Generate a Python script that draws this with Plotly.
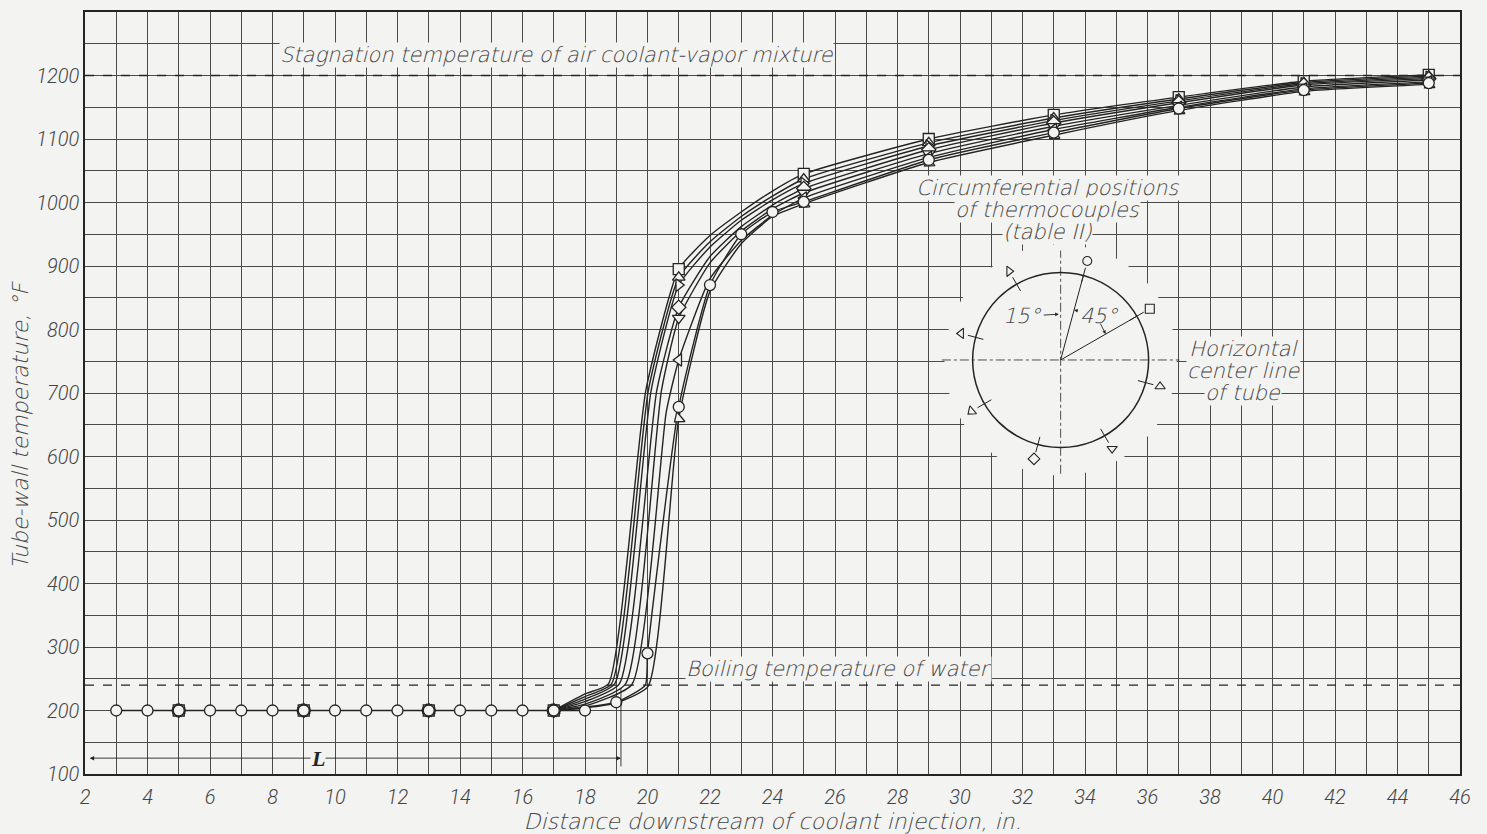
import math
import plotly.graph_objects as go

# ---------------- data ----------------
# upstream stations, the 15-deg (circle) thermocouple row
UP_X = [3, 4, 5, 6, 7, 8, 9, 10, 11, 12, 13, 14, 15, 16, 17, 18]
UP_Y = [200, 200, 200, 200, 200, 200, 200, 200, 200, 200, 200, 200, 200, 200, 200, 200]

# stations where all eight thermocouples sit on top of each other
ALL_X = [5, 9, 13, 17]
ALL_Y = [200, 200, 200, 200]

# downstream stations of the seven other thermocouples
DOWN_X = [21, 25, 29, 33, 37, 41, 45]
SQUARE_Y = [895, 1045, 1100, 1138, 1166, 1191, 1201]
TRI_UP_Y = [882, 1037, 1094, 1133, 1163, 1189, 1199]
TRI_RIGHT_Y = [870, 1030, 1089, 1129, 1160, 1187, 1197]
DIAMOND_Y = [835, 1022, 1083, 1125, 1157, 1185, 1195]
TRI_DOWN_Y = [818, 1015, 1077, 1120, 1153, 1182, 1193]
TRI_LEFT_Y = [752, 1007, 1071, 1115, 1150, 1179, 1190]
TRI_TILT_Y = [660, 998, 1063, 1106, 1145, 1175, 1186]

CIRCLE_X = [19, 20, 21, 22, 23, 24, 25, 29, 33, 37, 41, 45]
CIRCLE_Y = [213, 290, 678, 870, 950, 985, 1001, 1067, 1110, 1148, 1177, 1188]

# points read on the faired curves between the plotted stations
SQUARE_FX = [18, 18.75, 19.95, 22, 23, 24]
SQUARE_FY = [226, 242, 705, 948, 985, 1018]
TRI_UP_FX = [18, 18.85, 20.03, 22, 23, 24]
TRI_UP_FY = [222, 242, 705, 938, 978, 1010]
TRI_RIGHT_FX = [18, 18.95, 20.12, 22, 23, 24]
TRI_RIGHT_FY = [218, 242, 705, 930, 972, 1004]
DIAMOND_FX = [18, 19.1, 20.3, 22, 23, 24]
DIAMOND_FY = [214, 242, 705, 915, 962, 996]
TRI_DOWN_FX = [18, 19.3, 20.45, 22, 23, 24]
TRI_DOWN_FY = [210, 242, 705, 905, 955, 990]
TRI_LEFT_FX = [18, 19.5, 20.6, 22, 23, 24]
TRI_LEFT_FY = [207, 241, 670, 880, 940, 980]
TRI_TILT_FX = [18, 19, 20.02, 22, 23, 24]
TRI_TILT_FY = [204, 212, 238, 860, 935, 978]
CIRCLE_FX = [19.93]
CIRCLE_FY = [240]

# circumferential position of each thermocouple, degrees clockwise from top
ANGLE_SQUARE, ANGLE_TRI_UP, ANGLE_TRI_RIGHT, ANGLE_DIAMOND = 60, 105, 330, 195
ANGLE_TRI_DOWN, ANGLE_TRI_LEFT, ANGLE_CIRCLE, ANGLE_TRI_TILT = 150, 285, 15, 240

STAGNATION_T = 1200
BOILING_T = 240
L_END = 19.15

X_TICKS = list(range(2, 47, 2))
Y_TICKS = list(range(100, 1201, 100))

# ---------------- styling ----------------
BG = "#f3f3f1"
INK = "#242424"
GRID = "#4a4a4a"
TXT = "#454545"
FONT = "DejaVu Sans Light, DejaVu Sans"
TICKFONT = "Roboto"

W, H = 1487, 834
ML, MR, MT, MB = 85, 27, 10, 58
XR = [2, 46]
YR = [100, 1300]
SX = (W - ML - MR) / (XR[1] - XR[0])   # px per inch
SY = (H - MT - MB) / (YR[1] - YR[0])   # px per degree

series = [
    ("square", 0, DOWN_X, SQUARE_Y, SQUARE_FX, SQUARE_FY, ANGLE_SQUARE),
    ("triangle-up", 0, DOWN_X, TRI_UP_Y, TRI_UP_FX, TRI_UP_FY, ANGLE_TRI_UP),
    ("triangle-right", 0, DOWN_X, TRI_RIGHT_Y, TRI_RIGHT_FX, TRI_RIGHT_FY, ANGLE_TRI_RIGHT),
    ("diamond", 0, DOWN_X, DIAMOND_Y, DIAMOND_FX, DIAMOND_FY, ANGLE_DIAMOND),
    ("triangle-down", 0, DOWN_X, TRI_DOWN_Y, TRI_DOWN_FX, TRI_DOWN_FY, ANGLE_TRI_DOWN),
    ("triangle-left", 0, DOWN_X, TRI_LEFT_Y, TRI_LEFT_FX, TRI_LEFT_FY, ANGLE_TRI_LEFT),
    ("triangle-down", 50, DOWN_X, TRI_TILT_Y, TRI_TILT_FX, TRI_TILT_FY, ANGLE_TRI_TILT),
    ("circle", 0, CIRCLE_X, CIRCLE_Y, CIRCLE_FX, CIRCLE_FY, ANGLE_CIRCLE),
]

fig = go.Figure()

# faired curves
for sym, rot, mx, my, fx, fy, ang in series:
    pts = sorted(zip([17] + fx + mx, [200] + fy + my))
    fig.add_trace(go.Scatter(
        x=[p[0] for p in pts], y=[p[1] for p in pts], mode="lines",
        line=dict(color=INK, width=1.4, shape="spline", smoothing=0.5),
        hoverinfo="skip", showlegend=False))

# common upstream line
fig.add_trace(go.Scatter(x=UP_X, y=UP_Y, mode="lines",
                         line=dict(color=INK, width=1.4), showlegend=False))

# data points
mk = dict(size=11, color=BG, line=dict(color=INK, width=1.3))
for sym, rot, mx, my, fx, fy, ang in series:
    fig.add_trace(go.Scatter(
        x=ALL_X + mx, y=ALL_Y + my, mode="markers",
        marker=dict(symbol=sym, angle=rot, **mk), name=sym, showlegend=False))
fig.add_trace(go.Scatter(x=UP_X, y=UP_Y, mode="markers",
                         marker=dict(symbol="circle", **mk), showlegend=False))

# ---------------- tube cross-section sketch ----------------
CX, CY = 33.22, 752
R = 88  # px


def at(ang, r):
    a = math.radians(ang)
    return CX + r * math.sin(a) / SX, CY + r * math.cos(a) / SY


shapes = []
# blank paper round the sketch
shapes.append(dict(type="circle", xref="x", yref="y", layer="between",
                   x0=CX - 1.32 * R / SX, x1=CX + 1.32 * R / SX,
                   y0=CY - 1.32 * R / SY, y1=CY + 1.32 * R / SY,
                   fillcolor=BG, line=dict(width=0)))
shapes.append(dict(type="circle", xref="x", yref="y",
                   x0=CX - R / SX, x1=CX + R / SX, y0=CY - R / SY, y1=CY + R / SY,
                   line=dict(color=INK, width=1.5)))
# centre lines
shapes.append(dict(type="line", xref="x", yref="y",
                   x0=CX - 1.35 * R / SX, x1=CX + 1.35 * R / SX, y0=CY, y1=CY,
                   line=dict(color=INK, width=0.8, dash="dashdot")))
shapes.append(dict(type="line", xref="x", yref="y",
                   x0=CX, x1=CX, y0=CY - 1.3 * R / SY, y1=CY + 1.25 * R / SY,
                   line=dict(color=INK, width=0.8, dash="dashdot")))
# radii for the 15 and 45 degree dimensions
for ang in (ANGLE_CIRCLE, ANGLE_CIRCLE + 45):
    x1, y1 = at(ang, R)
    shapes.append(dict(type="line", xref="x", yref="y", x0=CX, y0=CY, x1=x1, y1=y1,
                       line=dict(color=INK, width=1)))
# ticks on the circle at each thermocouple
sk_x, sk_y, sk_sym, sk_rot = [], [], [], []
for sym, rot, mx, my, fx, fy, ang in series:
    xa, ya = at(ang, R - 8)
    xb, yb = at(ang, R + 8)
    shapes.append(dict(type="line", xref="x", yref="y", x0=xa, y0=ya, x1=xb, y1=yb,
                       line=dict(color=INK, width=1)))
    xm, ym = at(ang, 1.17 * R)
    sk_x.append(xm)
    sk_y.append(ym)
    sk_sym.append(sym)
    sk_rot.append(rot)
fig.add_trace(go.Scatter(x=sk_x, y=sk_y, mode="markers", showlegend=False,
                         marker=dict(symbol=sk_sym, angle=sk_rot, size=9, color=BG,
                                     line=dict(color=INK, width=1.1))))

# reference lines
shapes.append(dict(type="line", xref="paper", yref="y", x0=0, x1=1,
                   y0=STAGNATION_T, y1=STAGNATION_T,
                   line=dict(color=INK, width=1.4, dash="dash")))
shapes.append(dict(type="line", xref="paper", yref="y", x0=0, x1=1,
                   y0=BOILING_T, y1=BOILING_T,
                   line=dict(color=INK, width=1.4, dash="dash")))
shapes.append(dict(type="line", xref="x", yref="y", x0=L_END, x1=L_END, y0=112, y1=235,
                   line=dict(color=INK, width=0.9)))

tfont = dict(family=FONT, size=21, color=TXT, style="italic", weight=200)
ann = []


def label(x, y, text, **kw):
    d = dict(x=x, y=y, xref="x", yref="y", text=text, showarrow=False,
             font=tfont, bgcolor=BG, borderpad=0)
    d.update(kw)
    ann.append(d)


label(8.2, 1233, "Stagnation temperature of air coolant-vapor mixture", xanchor="left")
label(21.2, 266, "Boiling temperature of water", xanchor="left")
for yy, line in zip([1023, 988, 954],
                    ["Circumferential positions", "of thermocouples", "(table II)"]):
    label(32.8, yy, line)
for yy, line in zip([769, 734, 700], ["Horizontal", "center line", "of tube"]):
    label(39.06, yy, line)

# angle dimensions
x15, y15 = at(0, 46)
ann.append(dict(x=CX - 0.06, y=y15, xref="x", yref="y", text="15°", ax=-36, ay=2,
                showarrow=True, arrowhead=2, arrowsize=0.8, arrowwidth=0.9,
                arrowcolor=INK, font=tfont))
xa, ya = at(ANGLE_CIRCLE, 52)
ann.append(dict(x=xa, y=ya, xref="x", yref="y", text="45°", ax=25, ay=6,
                showarrow=True, arrowhead=2, arrowsize=0.8, arrowwidth=0.9,
                arrowcolor=INK, font=tfont))
xb, yb = at(ANGLE_CIRCLE + 45, 52)
ann.append(dict(x=xb, y=yb, xref="x", yref="y", text="", ax=-6, ay=-12,
                showarrow=True, arrowhead=2, arrowsize=0.8, arrowwidth=0.9,
                arrowcolor=INK))

# L dimension
ann.append(dict(x=L_END, y=125, ax=2.1, ay=125, xref="x", yref="y", axref="x", ayref="y",
                text="", showarrow=True, arrowhead=2, startarrowhead=2,
                arrowside="end+start", arrowsize=1, startarrowsize=1,
                arrowwidth=0.9, arrowcolor=INK))
label(9.46, 125, "<b><i>L</i></b>",
      font=dict(family="Liberation Serif", size=22, color=INK))

tickfont = dict(family=TICKFONT, size=20, color=TXT, style="italic", weight=300)
titlefont = dict(family=FONT, size=22, color=TXT, style="italic", weight=200)

# y-axis title, set a little below the plot centre as in the original
ann.append(dict(x=-0.047, y=0.458, xref="paper", yref="paper", xanchor="center",
                yanchor="middle", text="Tube-wall temperature, °F",
                textangle=-90, showarrow=False, font=titlefont))

fig.update_layout(
    width=W, height=H,
    margin=dict(l=ML, r=MR, t=MT, b=MB),
    paper_bgcolor=BG, plot_bgcolor=BG,
    shapes=shapes, annotations=ann, showlegend=False,
    xaxis=dict(range=XR, tickmode="array", tickvals=X_TICKS,
               ticktext=[str(v) for v in X_TICKS],
               showgrid=True, gridcolor=GRID, gridwidth=1,
               minor=dict(tick0=2, dtick=1, showgrid=True, gridcolor=GRID, gridwidth=1),
               showline=True, mirror=True, linecolor=INK, linewidth=1.5,
               zeroline=False, ticks="", ticklabelstandoff=4,
               tickfont=tickfont,
               title=dict(text="Distance downstream of coolant injection, in.",
                          standoff=0, font=titlefont)),
    yaxis=dict(range=YR, tickmode="array", tickvals=Y_TICKS,
               ticktext=[str(v) for v in Y_TICKS],
               showgrid=True, gridcolor=GRID, gridwidth=1,
               minor=dict(tick0=100, dtick=50, showgrid=True, gridcolor=GRID, gridwidth=1),
               showline=True, mirror=True, linecolor=INK, linewidth=1.5,
               zeroline=False, ticks="", ticklabelstandoff=0,
               tickfont=tickfont),
)

fig.write_html("out.html", config={"displayModeBar": False},
               post_script="document.body.style.margin='0';")
